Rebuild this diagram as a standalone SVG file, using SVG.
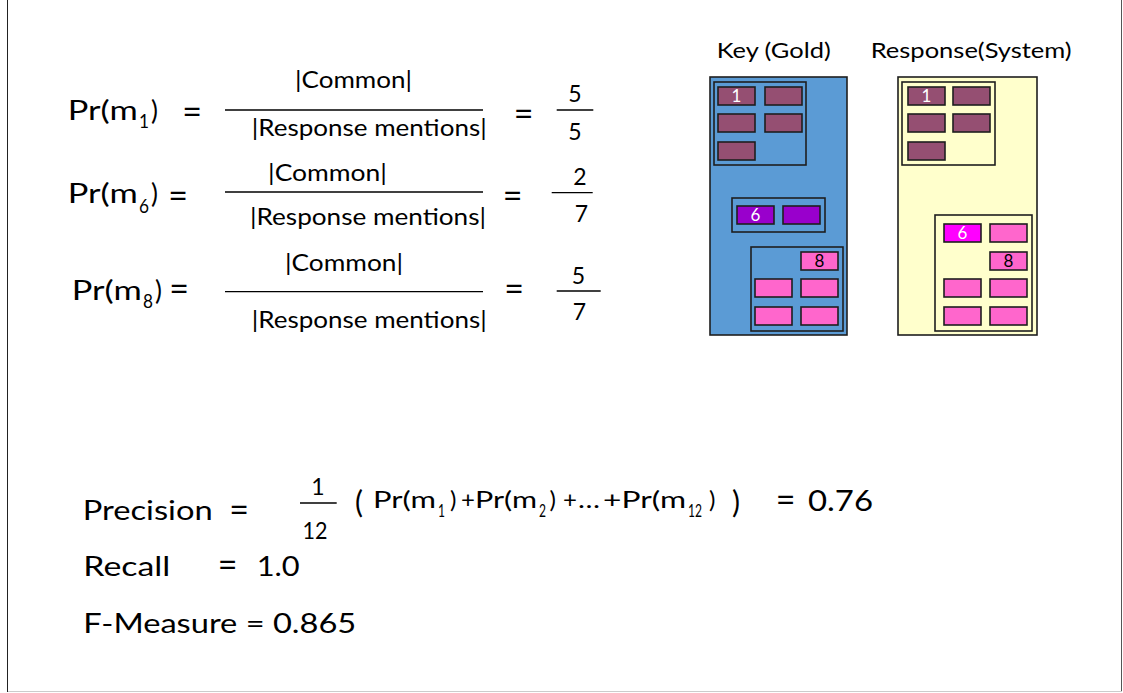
<svg xmlns="http://www.w3.org/2000/svg" width="1123" height="693" viewBox="0 0 1123 693">
<style>
text{font-family:Lato,"Open Sans","Liberation Sans",sans-serif;fill:#000}
.t24{font-size:26px}
.t23{font-size:24px}
.sub{font-size:19px}
.eq{font-size:34px}
.d{font-size:23px}
.big{font-size:30px}
.ps{font-size:24px}
.ss{font-size:18px}
.fl{stroke:#000;stroke-width:1.3;fill:none}
.clu{fill:none;stroke:#1e1e1e;stroke-width:1.6}
.m{stroke:#1e1e1e;stroke-width:1.6}
.mr{fill:#954F72}
.pu{fill:#9900CC}
.mg{fill:#FF00FF}
.pk{fill:#FF66CC}
.lbl{font-size:17px;text-anchor:middle}
.w{fill:#fff}
.mid{text-anchor:middle}
</style>
<rect x="0" y="0" width="1123" height="693" fill="#fff"/>
<g id="frame">
<line x1="7.5" y1="0" x2="7.5" y2="692" stroke="#222" stroke-width="1"/>
<line x1="1121.5" y1="0" x2="1121.5" y2="692" stroke="#555" stroke-width="1"/>
<line x1="8" y1="691.5" x2="1122" y2="691.5" stroke="#ccc" stroke-width="1"/>
</g>
<g id="eq-m1">
<text class="t24" x="67.7" y="120" textLength="70" lengthAdjust="spacingAndGlyphs">Pr(m</text>
<text class="sub" x="139" y="128" textLength="10" lengthAdjust="spacingAndGlyphs">1</text>
<text class="t24" x="151" y="120">)</text>
<text class="eq mid" x="192" y="124">=</text>
<text class="t23" x="295" y="88" textLength="117" lengthAdjust="spacingAndGlyphs">|Common|</text>
<line class="fl" x1="225" y1="110" x2="483" y2="110"/>
<text class="t23" x="251.7" y="136" textLength="235" lengthAdjust="spacingAndGlyphs">|Response mentions|</text>
<text class="eq mid" x="523.5" y="126">=</text>
<text class="d mid" x="575" y="101.7">5</text>
<line class="fl" x1="556.7" y1="110" x2="593.3" y2="110"/>
<text class="d mid" x="575" y="140">5</text>
</g>
<g id="eq-m6">
<text class="t24" x="67.7" y="203" textLength="70" lengthAdjust="spacingAndGlyphs">Pr(m</text>
<text class="sub" x="139" y="213" textLength="10" lengthAdjust="spacingAndGlyphs">6</text>
<text class="t24" x="151" y="203">)</text>
<text class="eq mid" x="178" y="208">=</text>
<text class="t23" x="268" y="181" textLength="119" lengthAdjust="spacingAndGlyphs">|Common|</text>
<line class="fl" x1="225" y1="192" x2="483" y2="192"/>
<text class="t23" x="250" y="225" textLength="236" lengthAdjust="spacingAndGlyphs">|Response mentions|</text>
<text class="eq mid" x="512.5" y="208">=</text>
<text class="d mid" x="580" y="185">2</text>
<line class="fl" x1="551.7" y1="192.7" x2="592.7" y2="192.7"/>
<text class="d mid" x="581.5" y="221.7">7</text>
</g>
<g id="eq-m8">
<text class="t24" x="71.7" y="300" textLength="70" lengthAdjust="spacingAndGlyphs">Pr(m</text>
<text class="sub" x="143" y="308" textLength="10" lengthAdjust="spacingAndGlyphs">8</text>
<text class="t24" x="155" y="300">)</text>
<text class="eq mid" x="179" y="301">=</text>
<text class="t23" x="285" y="271" textLength="118" lengthAdjust="spacingAndGlyphs">|Common|</text>
<line class="fl" x1="225" y1="291.7" x2="483" y2="291.7"/>
<text class="t23" x="251.7" y="328" textLength="235" lengthAdjust="spacingAndGlyphs">|Response mentions|</text>
<text class="eq mid" x="514" y="301">=</text>
<text class="d mid" x="578.5" y="284">5</text>
<line class="fl" x1="556.7" y1="291" x2="600.7" y2="291"/>
<text class="d mid" x="579.5" y="320">7</text>
</g>
<g id="key-gold">
<text style="font-size:21px" x="716.7" y="58" textLength="114" lengthAdjust="spacingAndGlyphs">Key (Gold)</text>
<rect x="710" y="77" width="137" height="258" fill="#5B9BD5" stroke="#1e1e1e" stroke-width="1.6"/>
<rect class="clu" x="714" y="82" width="92" height="83"/>
<rect class="m mr" x="718" y="87" width="37" height="18"/>
<text class="lbl w" x="736.5" y="102">1</text>
<rect class="m mr" x="765" y="87" width="37" height="18"/>
<rect class="m mr" x="718" y="114" width="37" height="18"/>
<rect class="m mr" x="765" y="114" width="37" height="18"/>
<rect class="m mr" x="718" y="142" width="37" height="18"/>
<rect class="clu" x="732" y="198" width="93" height="34"/>
<rect class="m pu" x="737" y="206" width="37" height="18"/>
<text class="lbl w" x="755.5" y="221">6</text>
<rect class="m pu" x="783" y="206" width="37" height="18"/>
<rect class="clu" x="751" y="247" width="92" height="84"/>
<rect class="m pk" x="801" y="252" width="37" height="18"/>
<text class="lbl" x="819.5" y="267">8</text>
<rect class="m pk" x="755" y="279" width="37" height="18"/>
<rect class="m pk" x="801" y="279" width="37" height="18"/>
<rect class="m pk" x="755" y="307" width="37" height="18"/>
<rect class="m pk" x="801" y="307" width="37" height="18"/>
</g>
<g id="response-system">
<text style="font-size:21px" x="870.7" y="58" textLength="201" lengthAdjust="spacingAndGlyphs">Response(System)</text>
<rect x="898" y="77" width="139" height="258" fill="#FFFFCC" stroke="#1e1e1e" stroke-width="1.6"/>
<rect class="clu" x="902" y="82" width="93" height="83"/>
<rect class="m mr" x="908" y="87" width="37" height="18"/>
<text class="lbl w" x="926.5" y="102">1</text>
<rect class="m mr" x="953" y="87" width="37" height="18"/>
<rect class="m mr" x="908" y="114" width="37" height="18"/>
<rect class="m mr" x="953" y="114" width="37" height="18"/>
<rect class="m mr" x="908" y="142" width="37" height="18"/>
<rect class="clu" x="935" y="215" width="97" height="116"/>
<rect class="m mg" x="944" y="224" width="37" height="18"/>
<text class="lbl w" x="962.5" y="239">6</text>
<rect class="m pk" x="990" y="224" width="37" height="18"/>
<rect class="m pk" x="990" y="252" width="37" height="18"/>
<text class="lbl" x="1008.5" y="267">8</text>
<rect class="m pk" x="944" y="279" width="37" height="18"/>
<rect class="m pk" x="990" y="279" width="37" height="18"/>
<rect class="m pk" x="944" y="307" width="37" height="18"/>
<rect class="m pk" x="990" y="307" width="37" height="18"/>
</g>
<g id="precision">
<text style="font-size:27px" x="82.7" y="520" textLength="130" lengthAdjust="spacingAndGlyphs">Precision</text>
<text class="eq mid" x="239" y="522">=</text>
<text class="d mid" x="318" y="495">1</text>
<line class="fl" x1="300" y1="503" x2="336.7" y2="503"/>
<text class="d mid" x="315" y="539" textLength="25" lengthAdjust="spacingAndGlyphs">12</text>
<text class="big" x="355" y="513">(</text>
<text class="ps" x="373" y="508" textLength="63" lengthAdjust="spacingAndGlyphs">Pr(m</text>
<text class="ss" x="438" y="517" textLength="7" lengthAdjust="spacingAndGlyphs">1</text>
<text class="ps" x="450" y="508">)</text>
<text class="ps" x="461" y="508">+</text>
<text class="ps" x="475" y="508" textLength="62" lengthAdjust="spacingAndGlyphs">Pr(m</text>
<text class="ss" x="539" y="517" textLength="7" lengthAdjust="spacingAndGlyphs">2</text>
<text class="ps" x="549.5" y="508">)</text>
<text class="ps" x="563" y="508">+</text>
<text class="ps" x="578" y="508" textLength="22" lengthAdjust="spacingAndGlyphs">…</text>
<text class="ps" x="603" y="508" textLength="83" lengthAdjust="spacingAndGlyphs">+Pr(m</text>
<text class="ss" x="688" y="517" textLength="14" lengthAdjust="spacingAndGlyphs">12</text>
<text class="ps" x="709" y="508">)</text>
<text class="big" x="732" y="513">)</text>
<text class="eq mid" x="785.5" y="512">=</text>
<text style="font-size:29px" x="808" y="511" textLength="65" lengthAdjust="spacingAndGlyphs">0.76</text>
</g>
<g id="recall">
<text style="font-size:27px" x="83.3" y="576" textLength="87" lengthAdjust="spacingAndGlyphs">Recall</text>
<text class="eq mid" x="227.5" y="577">=</text>
<text style="font-size:27px" x="256.7" y="576" textLength="43" lengthAdjust="spacingAndGlyphs">1.0</text>
</g>
<g id="f-measure">
<text style="font-size:27px" x="83.3" y="633" textLength="273" lengthAdjust="spacingAndGlyphs">F-Measure = 0.865</text>
</g>
</svg>
